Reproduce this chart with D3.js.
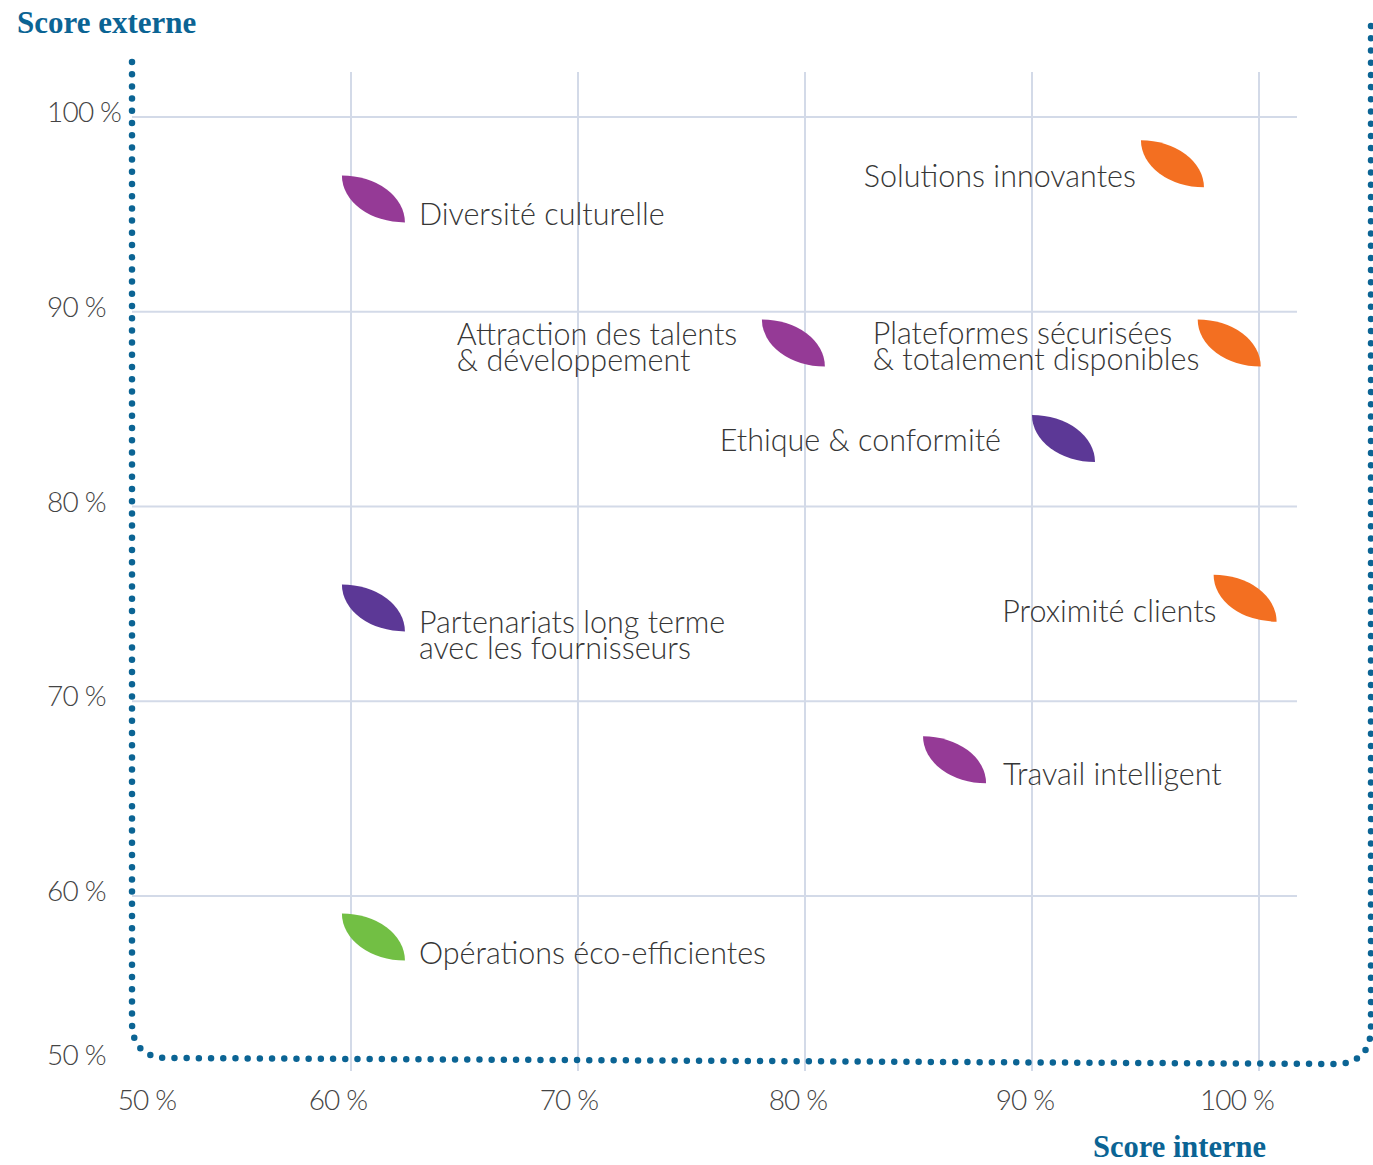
<!DOCTYPE html>
<html><head><meta charset="utf-8">
<script src="https://cdn.jsdelivr.net/npm/d3@7"></script>
<style>body{margin:0;background:#fff} svg{display:block}</style>
</head><body>
<script>
// ---- data ----
const items = ["Diversité culturelle","Solutions innovantes","Attraction des talents & développement","Plateformes sécurisées & totalement disponibles","Ethique & conformité","Partenariats long terme avec les fournisseurs","Proximité clients","Travail intelligent","Opérations éco-efficientes"];
const labelLines = [["Diversité culturelle"],["Solutions innovantes"],["Attraction des talents","& développement"],["Plateformes sécurisées","& totalement disponibles"],["Ethique & conformité"],["Partenariats long terme","avec les fournisseurs"],["Proximité clients"],["Travail intelligent"],["Opérations éco-efficientes"]];
const internalScore = [59.6, 94.8, 78.1, 97.3, 90.0, 59.6, 98.0, 85.2, 59.6];
const externalScore = [97.0, 98.8, 89.6, 89.6, 84.7, 76.0, 76.5, 68.2, 59.1];
const groups = ["Collaborateurs","Clients","Collaborateurs","Clients","Éthique","Éthique","Clients","Collaborateurs","Environnement"];
const groupNames = ["Clients","Collaborateurs","Éthique","Environnement"];
const groupColors = ["#F36F21","#953A96","#5C3896","#72BF44"];
const xTickValues = [50,60,70,80,90,100];
const yTickValues = [50,60,70,80,90,100];
const tickFormat = v => v + " %";
const xTitle = "Score interne", yTitle = "Score externe";

// ---- layout (pixels) ----
const labelAnchor = ["start","end","start","start","end","start","end","start","start"];
const labelNudge = [[77,50],[-5,47],[-305,25],[-325,24],[-31,36],[77,49],[3,47],[80,49],[77,50]];
const xTickNudge = [23,-13,-9,-7,-7,-22];
const W = 1373, H = 1165, leafW = 63, leafH = 47;

const x = d3.scaleLinear().domain([60,100]).range([351,1259]);
const y = d3.scaleLinear().domain([60,100]).range([896,117]);
const color = d3.scaleOrdinal().domain(groupNames).range(groupColors);

const svg = d3.select("body").append("svg").attr("width",W).attr("height",H);
const textCol = "#363636";
const FONT = "Lato, 'Open Sans', sans-serif";

// gridlines
svg.append("g").selectAll("line").data(xTickValues.slice(1)).join("line")
  .attr("x1",d=>x(d)).attr("x2",d=>x(d)).attr("y1",72).attr("y2",1071)
  .attr("stroke","#D3DAE8").attr("stroke-width",2);
svg.append("g").selectAll("line").data(yTickValues.slice(1)).join("line")
  .attr("x1",132).attr("x2",1297).attr("y1",d=>y(d)).attr("y2",d=>y(d))
  .attr("stroke","#D3DAE8").attr("stroke-width",2);

// dotted frame
svg.append("path")
  .attr("d","M132,62 L132,1022 Q132,1058 168,1058 L1334,1064 Q1371,1064 1371,1027 L1371,20")
  .attr("fill","none").attr("stroke","#0B6494").attr("stroke-width",6.5)
  .attr("stroke-linecap","round").attr("stroke-dasharray","0 12.2");

// tick labels
svg.append("g").selectAll("text").data(yTickValues).join("text")
  .attr("x",47).attr("y",d=> d===50 ? 1065 : y(d)+5)
  .attr("font-family",FONT).attr("font-weight",300).attr("font-size",28)
  .attr("letter-spacing",-0.8).attr("fill","#444").text(tickFormat);
svg.append("g").selectAll("text").data(xTickValues).join("text")
  .attr("x",(d,i)=> (d===50 ? 124 : x(d)) + xTickNudge[i]).attr("y",1110)
  .attr("text-anchor","middle")
  .attr("font-family",FONT).attr("font-weight",300).attr("font-size",28)
  .attr("letter-spacing",-0.8).attr("fill","#444").text(tickFormat);

// axis titles
const titleFont = "'Liberation Serif', 'DejaVu Serif', serif";
svg.append("text").attr("x",17).attr("y",33).text(yTitle)
  .attr("font-family",titleFont).attr("font-weight",700).attr("font-size",31)
  .attr("fill","#0B6494");
svg.append("text").attr("x",1093).attr("y",1157).text(xTitle)
  .attr("font-family",titleFont).attr("font-weight",700).attr("font-size",30.5)
  .attr("fill","#0B6494");

// leaves
const leaf = (x0,y0) => `M${x0},${y0} A${leafW},${leafH} 0 0 1 ${x0+leafW},${y0+leafH} A${leafW},${leafH} 0 0 1 ${x0},${y0}Z`;
const pts = items.map((n,i)=>({name:n,i,xi:x(internalScore[i]),yi:y(externalScore[i])}));
svg.append("g").selectAll("path").data(pts).join("path")
  .attr("d",d=>leaf(d.xi,d.yi)).attr("fill",d=>color(groups[d.i]));

// labels
const lg = svg.append("g").selectAll("text").data(pts).join("text")
  .attr("x",d=>d.xi+labelNudge[d.i][0]).attr("y",d=>d.yi+labelNudge[d.i][1])
  .attr("text-anchor",d=>labelAnchor[d.i])
  .attr("font-family",FONT).attr("font-weight",300).attr("font-size",30.5)
  .attr("fill",textCol);
lg.selectAll("tspan").data(d=>labelLines[d.i].map(t=>({t,x:d.xi+labelNudge[d.i][0]}))).join("tspan")
  .attr("x",d=>d.x).attr("dy",(d,j)=> j===0 ? 0 : 26).text(d=>d.t);
</script>
</body></html>
